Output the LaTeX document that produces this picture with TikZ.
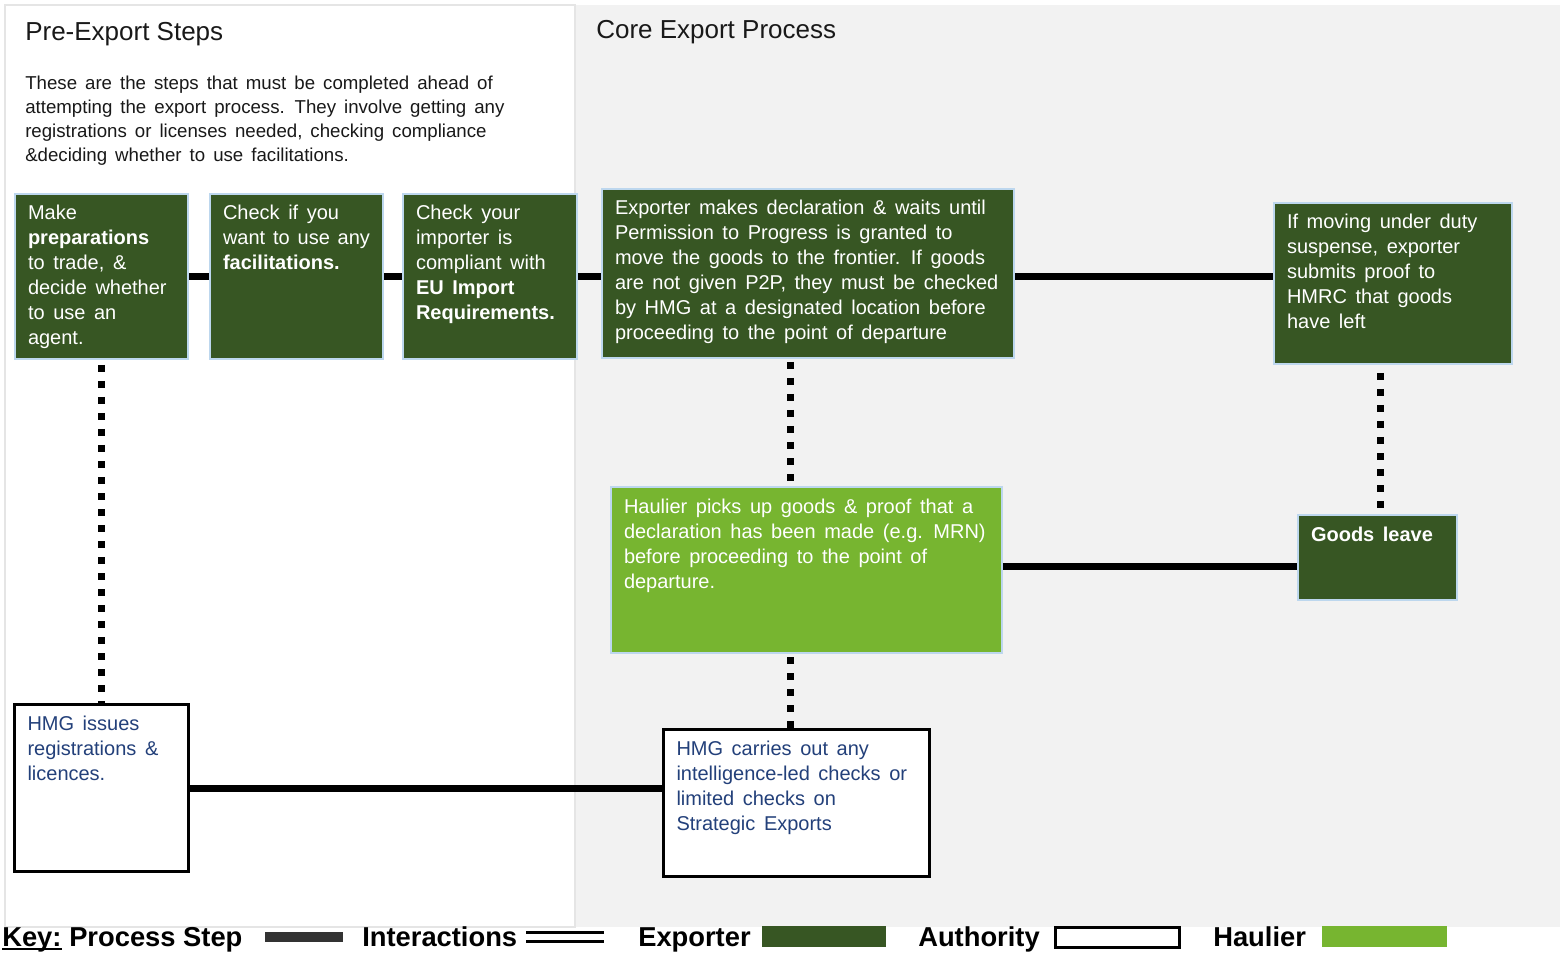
\documentclass[tikz,border=0pt]{standalone}
\usepackage{fontspec}
\setmainfont{Liberation Sans}
\definecolor{exgreen}{HTML}{375623}
\definecolor{haulgreen}{HTML}{77B530}
\definecolor{edgeblue}{HTML}{BDD7EE}
\definecolor{authblue}{HTML}{23407A}
\definecolor{panelgray}{HTML}{F2F2F2}
\definecolor{keygray}{HTML}{333333}
\newdimen\PX \PX=0.75pt
\newcommand\widesp{\spaceskip=0.43em plus 0.1em minus 0.12em\relax}
\newcommand\bt[3]{\parbox[t][#2\PX][t]{#1\PX}{\raggedright\widesp\strut #3}}
\tikzset{
  boxfont/.style={font=\fontsize{15pt}{18.75pt}\selectfont},
  stepbox/.style={boxfont, anchor=north west, inner xsep=9.75pt, inner ysep=6.375pt,
                  draw=edgeblue, line width=1.5pt, fill=exgreen, text=white},
  haulbox/.style={stepbox, fill=haulgreen},
  authbox/.style={boxfont, anchor=north west, inner xsep=9.75pt, inner ysep=6.375pt,
                  draw=black, line width=2.25pt, fill=white, text=authblue},
  flow/.style={line width=5.25pt},
  interact/.style={line width=5.25pt, dash pattern=on 5.25pt off 6.75pt},
  keytext/.style={anchor=base west, inner sep=0pt, font=\bfseries\fontsize{20.5pt}{24pt}\selectfont},
  titletext/.style={anchor=base west, inner sep=0pt, text=black!90, font=\fontsize{19.5pt}{23pt}\selectfont}
}
\begin{document}
\begin{tikzpicture}[x=0.75pt,y=-0.75pt]
\useasboundingbox (0,0) rectangle (1560,955);
% panels
\fill[panelgray] (575,5) rectangle (1560,927);
\draw[black!10, line width=1pt, fill=white] (5,5) rectangle (575,927);

% titles
\node[titletext] (t1) at (25,41) {Pre-Export Steps};
\node[titletext] (t2) at (596,39) {Core Export Process};
\node[anchor=north west, inner sep=0pt, text=black!90, font=\fontsize{14pt}{18pt}\selectfont] (desc) at (25,72)
  {\parbox[t]{520\PX}{\raggedright\widesp\strut These are the steps that must be completed ahead of\\
   attempting the export process. They involve getting any\\
   registrations or licenses needed, checking compliance\\
   \&deciding whether to use facilitations.}};

% process boxes
\node[stepbox] (b1) at (14,193) {\bt{147}{148}{Make\\\textbf{preparations}\\to trade, \&\\decide whether\\to use an\\agent.}};
\node[stepbox] (b2) at (209,193) {\bt{147}{148}{Check if you\\want to use any\\\textbf{facilitations.}}};
\node[stepbox] (b3) at (402,193) {\bt{148}{148}{Check your\\importer is\\compliant with\\\textbf{EU Import}\\\textbf{Requirements.}}};
\node[stepbox] (b4) at (601,188) {\bt{386}{152}{Exporter makes declaration \& waits until\\Permission to Progress is granted to\\move the goods to the frontier. If goods\\are not given P2P, they must be checked\\by HMG at a designated location before\\proceeding to the point of departure}};
\node[stepbox] (b5) at (1273,202) {\bt{212}{144}{If moving under duty\\suspense, exporter\\submits proof to\\HMRC that goods\\have left}};
\node[haulbox] (hl) at (610,486) {\bt{365}{149}{Haulier picks up goods \& proof that a\\declaration has been made (e.g. MRN)\\before proceeding to the point of\\departure.}};
\node[stepbox] (gl) at (1297,514) {\bt{133}{68}{\textbf{Goods leave}}};
\node[authbox] (hi) at (13,703) {\bt{148}{150}{HMG issues\\registrations \&\\licences.}};
\node[authbox] (hc) at (662,728) {\bt{240}{130}{HMG carries out any\\intelligence-led checks or\\limited checks on\\Strategic Exports}};

% process-step connectors
\coordinate (hy) at (0,566);
\draw[flow] (b1.east) -- (b2.west);
\draw[flow] (b2.east) -- (b3.west);
\draw[flow] (b3.east) -- (b4.west |- b3.east);
\draw[flow] (b4.east |- b3.east) -- (b5.west |- b3.east);
\draw[flow] (hl.east |- hy) -- (gl.west |- hy);
\draw[flow] (hi.east) -- (hc.west |- hi.east);

% interaction connectors
\coordinate (vx) at (790,0);
\coordinate (vy) at (1380,0);
\draw[interact] ([yshift=-5\PX]b1.south) -- (hi.north -| b1.south);
\draw[interact] ([yshift=-3\PX]b4.south -| vx) -- (hl.north -| vx);
\draw[interact] ([yshift=-3\PX]hl.south -| vx) -- (hc.north -| vx);
\draw[interact] ([yshift=-8\PX]b5.south -| vy) -- (gl.north -| vy);

% key
\node[keytext] (kkey) at (2,946) {Key:};
\draw[line width=1.5pt] ([yshift=-3\PX]kkey.base west) -- ([yshift=-3\PX]kkey.base east);
\node[keytext] (kps) at (69,946) {Process Step};
\fill[keygray] (265,932) rectangle (343,942);
\node[keytext] (kint) at (362,946) {Interactions};
\draw[line width=2.25pt] (526,932) -- (604,932);
\draw[line width=2.25pt] (526,941) -- (604,941);
\node[keytext] (kexp) at (638,946) {Exporter};
\fill[exgreen] (762,926) rectangle (886,947);
\node[keytext] (kaut) at (918,946) {Authority};
\draw[line width=2.25pt, fill=white] (1055,927) rectangle (1179,947);
\node[keytext] (khau) at (1213,946) {Haulier};
\fill[haulgreen] (1322,926) rectangle (1447,947);
\end{tikzpicture}
\end{document}
